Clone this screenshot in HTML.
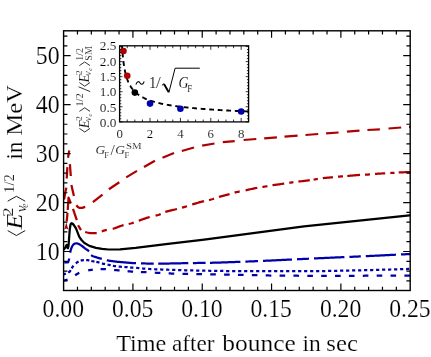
<!DOCTYPE html>
<html><head><meta charset="utf-8"><title>plot</title><style>html,body{margin:0;padding:0;background:#fff}body{width:431px;height:357px;overflow:hidden;font-family:"Liberation Serif",serif}</style></head><body>
<svg width="431" height="357" viewBox="0 0 431 357" style="display:block;will-change:transform;font-family:'Liberation Serif',serif">
<rect width="431" height="357" fill="#fff"/>
<style>text{stroke:#fff;stroke-width:0.14px}.b text,text.b{stroke-width:0.18px}</style>
<clipPath id="cp"><rect x="63.6" y="30.8" width="346.59999999999997" height="259.7"/></clipPath>
<g clip-path="url(#cp)">
<path d="M64.00,199.50 L66.30,187.60" fill="none" stroke="#ae0000" stroke-width="2.25" stroke-linejoin="round" />
<path d="M66.70,178.50 L67.40,167.10" fill="none" stroke="#ae0000" stroke-width="2.25" stroke-linejoin="round" />
<path d="M68.00,157.70 L69.25,150.50" fill="none" stroke="#ae0000" stroke-width="2.25" stroke-linejoin="round" />
<path d="M69.90,164.20 L70.80,176.00" fill="none" stroke="#ae0000" stroke-width="2.25" stroke-linejoin="round" />
<path d="M71.40,185.00 L73.90,196.00" fill="none" stroke="#ae0000" stroke-width="2.25" stroke-linejoin="round" />
<path d="M76.40,205.20 L77.80,207.00 L79.30,207.80 L82.00,207.90 L85.20,206.90" fill="none" stroke="#ae0000" stroke-width="2.25" stroke-linejoin="round" />
<path d="M92.90,202.20 L102.50,194.60" fill="none" stroke="#ae0000" stroke-width="2.25" stroke-linejoin="round" />
<path d="M108.90,189.30 L119.30,182.30" fill="none" stroke="#ae0000" stroke-width="2.25" stroke-linejoin="round" />
<path d="M126.20,177.40 L137.00,170.90" fill="none" stroke="#ae0000" stroke-width="2.25" stroke-linejoin="round" />
<path d="M144.00,166.90 L154.90,160.70" fill="none" stroke="#ae0000" stroke-width="2.25" stroke-linejoin="round" />
<path d="M162.50,157.70 L174.00,153.00" fill="none" stroke="#ae0000" stroke-width="2.25" stroke-linejoin="round" />
<path d="M181.80,151.00 L194.00,147.50" fill="none" stroke="#ae0000" stroke-width="2.25" stroke-linejoin="round" />
<path d="M202.20,145.60 L214.50,143.50" fill="none" stroke="#ae0000" stroke-width="2.25" stroke-linejoin="round" />
<path d="M222.80,142.20 L234.70,141.10" fill="none" stroke="#ae0000" stroke-width="2.25" stroke-linejoin="round" />
<path d="M243.60,140.00 L256.30,139.00" fill="none" stroke="#ae0000" stroke-width="2.25" stroke-linejoin="round" />
<path d="M264.20,138.40 L276.90,137.30" fill="none" stroke="#ae0000" stroke-width="2.25" stroke-linejoin="round" />
<path d="M284.50,136.70 L297.60,135.70" fill="none" stroke="#ae0000" stroke-width="2.25" stroke-linejoin="round" />
<path d="M305.50,135.00 L318.20,134.00" fill="none" stroke="#ae0000" stroke-width="2.25" stroke-linejoin="round" />
<path d="M326.10,133.30 L338.60,132.50" fill="none" stroke="#ae0000" stroke-width="2.25" stroke-linejoin="round" />
<path d="M346.90,131.60 L359.50,130.60" fill="none" stroke="#ae0000" stroke-width="2.25" stroke-linejoin="round" />
<path d="M367.40,130.00 L379.90,129.30" fill="none" stroke="#ae0000" stroke-width="2.25" stroke-linejoin="round" />
<path d="M388.50,128.50 L401.20,127.50" fill="none" stroke="#ae0000" stroke-width="2.25" stroke-linejoin="round" />
<path d="M409.00,126.90 L411.00,126.80" fill="none" stroke="#ae0000" stroke-width="2.25" stroke-linejoin="round" />
<path d="M66.70,221.40 L67.50,213.00" fill="none" stroke="#ae0000" stroke-width="2.25" stroke-linejoin="round" />
<path d="M67.75,210.00 L68.40,200.00 L68.50,197.60 L68.90,198.30 L70.90,203.50" fill="none" stroke="#ae0000" stroke-width="2.25" stroke-linejoin="round" />
<path d="M73.00,208.80 L76.80,220.20" fill="none" stroke="#ae0000" stroke-width="2.25" stroke-linejoin="round" />
<path d="M78.10,225.20 L81.00,230.10" fill="none" stroke="#ae0000" stroke-width="2.25" stroke-linejoin="round" />
<path d="M66.3,222.2 L64.3,229.6 L66.2,228.4 L68.3,229.6 Z" fill="#ae0000"/>
<path d="M85.20,232.00 L86.16,232.23 L87.12,232.50 L88.08,232.74 L89.03,232.93 L89.99,233.00 L90.95,233.00 L91.91,233.00 L92.87,233.00 L93.83,233.00 L94.78,233.00 L95.74,233.00 L96.70,233.00 M101.80,231.42 L102.80,231.00 L103.80,230.64 L104.80,230.38 L105.80,230.16 L106.80,229.96 M112.70,228.80 L113.69,228.53 L114.68,228.22 L115.67,227.89 L116.66,227.53 L117.65,227.16 L118.65,226.78 L119.64,226.41 L120.63,226.05 L121.62,225.70 L122.61,225.38 L123.60,225.10 M128.70,223.99 L129.70,223.77 L130.70,223.53 L131.70,223.26 L132.70,222.94 L133.70,222.60 M138.80,220.70 L139.79,220.35 L140.78,220.00 L141.77,219.64 L142.76,219.28 L143.75,218.93 L144.75,218.58 L145.74,218.24 L146.73,217.91 L147.72,217.59 L148.71,217.29 L149.70,217.00 M155.60,215.66 L156.45,215.45 L157.30,215.23 L158.15,214.98 L159.00,214.69 L159.85,214.35 L160.70,213.98 M165.30,212.00 L166.28,211.70 L167.25,211.41 L168.23,211.14 L169.20,210.89 L170.18,210.64 L171.15,210.41 L172.12,210.18 L173.10,209.95 L174.07,209.72 L175.05,209.49 L176.03,209.25 L177.00,209.00 M182.00,207.70 L183.00,207.43 L184.00,207.14 L185.00,206.85 L186.00,206.54 L187.00,206.21 M192.20,204.50 L193.18,204.20 L194.17,203.90 L195.15,203.60 L196.13,203.30 L197.12,203.01 L198.10,202.72 L199.08,202.43 L200.07,202.15 L201.05,201.88 L202.03,201.61 L203.02,201.35 L204.00,201.10 M209.00,200.00 L210.00,199.78 L211.00,199.53 L212.00,199.26 L213.00,198.95 L214.00,198.61 M219.00,196.90 L219.96,196.63 L220.93,196.37 L221.89,196.12 L222.85,195.88 L223.82,195.64 L224.78,195.41 L225.75,195.18 L226.71,194.94 L227.67,194.71 L228.64,194.46 L229.60,194.20 M234.60,192.68 L235.45,192.43 L236.30,192.20 L237.15,191.99 L238.00,191.79 L238.85,191.61 L239.70,191.43 M245.60,190.30 L246.57,190.10 L247.55,189.88 L248.53,189.67 L249.50,189.45 L250.47,189.23 L251.45,189.01 L252.43,188.79 L253.40,188.58 L254.38,188.37 L255.35,188.17 L256.32,187.98 L257.30,187.80 M262.40,187.00 L263.40,186.84 L264.40,186.68 L265.40,186.51 L266.40,186.33 L267.40,186.14 M272.50,185.20 L273.48,185.05 L274.45,184.91 L275.43,184.77 L276.40,184.64 L277.38,184.51 L278.35,184.38 L279.32,184.26 L280.30,184.13 L281.27,184.00 L282.25,183.87 L283.22,183.74 L284.20,183.60 M289.30,182.80 L290.12,182.67 L290.94,182.55 L291.76,182.44 L292.58,182.33 L293.40,182.22 M298.40,181.60 L299.35,181.48 L300.30,181.37 L301.25,181.25 L302.20,181.14 L303.15,181.03 L304.10,180.92 L305.05,180.80 L306.00,180.69 L306.95,180.57 L307.90,180.45 L308.85,180.33 L309.80,180.20 M313.60,179.63 L314.44,179.50 L315.28,179.36 L316.12,179.23 L316.96,179.10 L317.80,178.96 M322.80,178.20 L323.72,178.09 L324.64,177.99 L325.55,177.89 L326.47,177.80 L327.39,177.71 L328.31,177.62 L329.23,177.54 L330.15,177.45 L331.06,177.37 L331.98,177.29 L332.90,177.20 M338.00,176.72 L339.00,176.63 L340.00,176.54 L341.00,176.46 L342.00,176.38 L343.00,176.31 M347.30,176.00 L348.28,175.92 L349.25,175.83 L350.23,175.74 L351.21,175.65 L352.18,175.55 L353.16,175.46 L354.14,175.36 L355.12,175.27 L356.09,175.18 L357.07,175.10 L358.05,175.02 L359.02,174.96 L360.00,174.90 M365.00,174.71 L366.00,174.67 L367.00,174.63 L368.00,174.57 L369.00,174.49 L370.00,174.40 M375.00,173.90 L375.93,173.83 L376.85,173.77 L377.78,173.71 L378.71,173.66 L379.64,173.61 L380.56,173.55 L381.49,173.50 L382.42,173.45 L383.35,173.40 L384.27,173.35 L385.20,173.30 M390.30,173.02 L391.14,172.97 L391.98,172.92 L392.82,172.87 L393.66,172.82 L394.50,172.76 M398.70,172.50 L399.65,172.45 L400.59,172.41 L401.54,172.37 L402.48,172.33 L403.43,172.29 L404.38,172.25 L405.32,172.22 L406.27,172.18 L407.22,172.15 L408.16,172.11 L409.11,172.07 L410.05,172.04 L411.00,172.00 " fill="none" stroke="#ae0000" stroke-width="2.25"/>
<path d="M63.80,249.90 L65.40,247.20 L66.70,244.90 L67.30,247.60 L67.90,248.20 L68.50,246.00 L69.00,239.50 L69.80,229.00 L70.60,224.30 L71.50,223.20 L72.50,223.60 L73.50,224.60 L76.00,228.40 L79.30,236.80 L81.50,240.00 L84.40,243.00 L89.40,245.90 L96.00,247.80 L102.00,248.90 L108.50,249.50 L120.00,249.30 L135.60,247.90 L168.00,243.90 L200.00,240.10 L208.00,239.10 L304.00,226.40 L409.50,215.30 L411.00,215.15" fill="none" stroke="#000" stroke-width="2.25" stroke-linejoin="round" />
<path d="M64.30,262.80 L66.50,262.10 L68.20,262.30 L68.70,260.50 L69.30,258.50" fill="none" stroke="#0000ad" stroke-width="2.25" stroke-linejoin="round" />
<path d="M70.10,252.60 L71.09,248.90 L72.09,246.48 L73.08,244.94 L74.08,243.97 L75.07,243.49 L76.07,243.30 L77.06,243.45 L78.06,243.75 L79.05,244.12 L80.05,244.67 L81.04,245.33 L82.04,246.03 L83.03,246.76 L84.03,247.56 L85.02,248.36 L86.02,249.08 L87.01,249.73 L88.01,250.46 L89.00,251.40 M91.10,255.10 L92.07,255.73 L93.05,256.20 L94.02,256.56 L94.99,256.87 L95.96,257.19 L96.94,257.51 L97.91,257.81 L98.88,258.09 L99.85,258.36 L100.83,258.63 L101.80,258.90 M106.80,260.30 L107.77,260.48 L108.75,260.64 L109.72,260.80 L110.69,260.94 L111.67,261.08 L112.64,261.21 L113.61,261.33 L114.59,261.44 L115.56,261.55 L116.53,261.66 L117.51,261.76 L118.48,261.85 L119.45,261.95 L120.43,262.04 L121.40,262.13 L122.37,262.23 L123.35,262.32 L124.32,262.41 L125.29,262.49 L126.27,262.58 L127.24,262.66 L128.21,262.74 L129.19,262.81 L130.16,262.88 L131.13,262.95 L132.11,263.01 L133.08,263.07 L134.05,263.12 L135.03,263.16 L136.00,263.20 M141.00,263.37 L141.98,263.40 L142.95,263.43 L143.93,263.45 L144.91,263.48 L145.88,263.50 L146.86,263.52 L147.84,263.54 L148.82,263.56 L149.79,263.57 L150.77,263.58 L151.75,263.59 L152.72,263.60 L153.70,263.60 M158.20,263.59 L159.17,263.59 L160.14,263.58 L161.11,263.57 L162.08,263.57 L163.05,263.56 L164.03,263.55 L165.00,263.55 L165.97,263.54 L166.94,263.53 L167.91,263.52 L168.88,263.51 L169.85,263.50 L170.82,263.49 L171.79,263.48 L172.76,263.46 L173.74,263.44 L174.71,263.42 L175.68,263.40 L176.65,263.38 L177.62,263.35 L178.59,263.33 L179.56,263.30 L180.53,263.28 L181.50,263.25 L182.47,263.22 L183.45,263.20 L184.42,263.18 L185.39,263.15 L186.36,263.13 L187.33,263.12 L188.30,263.10 M192.90,263.04 L193.88,263.03 L194.85,263.02 L195.83,263.01 L196.81,263.00 L197.78,262.99 L198.76,262.98 L199.74,262.97 L200.72,262.96 L201.69,262.95 L202.67,262.94 L203.65,262.93 L204.62,262.92 L205.60,262.90 M210.00,262.81 L210.98,262.79 L211.96,262.77 L212.94,262.74 L213.92,262.72 L214.90,262.69 L215.88,262.66 L216.86,262.63 L217.85,262.60 L218.83,262.57 L219.81,262.54 L220.79,262.51 L221.77,262.48 L222.75,262.44 L223.73,262.41 L224.71,262.38 L225.69,262.34 L226.67,262.31 L227.65,262.27 L228.63,262.23 L229.61,262.20 L230.59,262.16 L231.57,262.12 L232.55,262.09 L233.54,262.05 L234.52,262.02 L235.50,261.98 L236.48,261.94 L237.46,261.91 L238.44,261.87 L239.42,261.84 L240.40,261.80 M245.40,261.61 L246.37,261.58 L247.34,261.54 L248.31,261.50 L249.28,261.46 L250.25,261.42 L251.22,261.38 L252.18,261.34 L253.15,261.30 L254.12,261.26 L255.09,261.22 L256.06,261.18 L257.03,261.14 L258.00,261.10 M263.00,260.88 L264.00,260.84 L265.00,260.79 L266.00,260.74 L267.00,260.70 L268.00,260.65 L269.00,260.60 L270.00,260.56 L271.00,260.51 L272.00,260.46 L273.00,260.41 L274.00,260.37 L275.00,260.32 L276.00,260.27 L277.00,260.22 L278.00,260.17 L279.00,260.13 L280.00,260.08 L281.00,260.03 L282.00,259.98 L283.00,259.93 L284.00,259.88 L285.00,259.83 L286.00,259.79 L287.00,259.74 L288.00,259.69 L289.00,259.64 L290.00,259.59 L291.00,259.55 L292.00,259.50 M297.00,259.26 L298.00,259.22 L299.00,259.17 L300.00,259.12 L301.00,259.07 L302.00,259.03 L303.00,258.98 L304.00,258.93 L305.00,258.89 L306.00,258.84 L307.00,258.79 L308.00,258.75 L309.00,258.70 M314.00,258.47 L314.98,258.42 L315.96,258.38 L316.94,258.33 L317.92,258.29 L318.90,258.24 L319.88,258.20 L320.86,258.15 L321.85,258.11 L322.83,258.07 L323.81,258.02 L324.79,257.98 L325.77,257.93 L326.75,257.89 L327.73,257.84 L328.71,257.80 L329.69,257.75 L330.67,257.71 L331.65,257.67 L332.63,257.62 L333.61,257.58 L334.59,257.53 L335.57,257.49 L336.55,257.45 L337.54,257.40 L338.52,257.36 L339.50,257.32 L340.48,257.27 L341.46,257.23 L342.44,257.19 L343.42,257.14 L344.40,257.10 M349.40,256.89 L350.35,256.85 L351.30,256.81 L352.25,256.77 L353.20,256.73 L354.15,256.69 L355.10,256.65 L356.05,256.61 L357.00,256.57 L357.95,256.53 L358.90,256.48 L359.85,256.44 L360.80,256.40 M365.80,256.17 L366.77,256.12 L367.75,256.08 L368.72,256.03 L369.70,255.99 L370.67,255.94 L371.65,255.89 L372.62,255.84 L373.59,255.80 L374.57,255.75 L375.54,255.70 L376.52,255.65 L377.49,255.61 L378.46,255.56 L379.44,255.51 L380.41,255.46 L381.39,255.41 L382.36,255.36 L383.34,255.32 L384.31,255.27 L385.28,255.22 L386.26,255.17 L387.23,255.12 L388.21,255.08 L389.18,255.03 L390.15,254.98 L391.13,254.93 L392.10,254.89 L393.08,254.84 L394.05,254.79 L395.03,254.75 L396.00,254.70 M401.00,254.47 L402.00,254.42 L403.00,254.37 L404.00,254.33 L405.00,254.28 L406.00,254.23 L407.00,254.19 L408.00,254.14 L409.00,254.09 L410.00,254.05 L411.00,254.00 " fill="none" stroke="#0000ad" stroke-width="2.25"/>
<path d="M63.70,274.27 L64.42,274.08 L65.13,273.88 L65.85,273.66 M68.27,272.59 L69.09,272.07 L69.91,271.40 L70.73,270.21 M71.69,268.42 L72.60,266.90 L73.51,265.72 M75.82,263.33 L76.74,262.59 L77.66,262.05 L78.58,261.56 M80.71,260.66 L81.51,260.44 L82.30,260.30 L83.09,260.21 L83.89,260.14 M86.20,260.12 L87.00,260.16 L87.80,260.20 L88.60,260.28 L89.40,260.41 M91.34,260.86 L92.12,261.06 L92.90,261.24 L93.68,261.39 L94.46,261.54 M96.34,261.88 L97.12,262.03 L97.90,262.20 L98.68,262.39 L99.46,262.62 M101.94,263.38 L102.72,263.60 L103.50,263.80 L104.28,263.97 L105.06,264.13 M107.53,264.60 L108.32,264.75 L109.10,264.90 L109.88,265.07 L110.67,265.24 M112.92,265.73 L113.71,265.89 L114.50,266.02 L115.29,266.13 L116.08,266.24 M118.71,266.55 L119.50,266.63 L120.30,266.70 L121.10,266.77 L121.89,266.82 M124.40,266.98 L125.20,267.04 L126.00,267.09 L126.80,267.15 L127.60,267.22 M130.15,267.45 L130.95,267.52 L131.75,267.58 L132.55,267.64 L133.35,267.70 M136.15,267.88 L136.95,267.94 L137.75,268.00 L138.55,268.08 L139.34,268.16 M142.15,268.47 L142.95,268.55 L143.75,268.63 L144.54,268.69 L145.34,268.74 M148.15,268.91 L148.95,268.96 L149.74,269.00 L150.54,269.04 L151.34,269.08 M154.14,269.21 L154.94,269.25 L155.74,269.28 L156.54,269.32 L157.34,269.35 M160.14,269.46 L160.94,269.49 L161.74,269.52 L162.54,269.55 L163.34,269.58 M166.14,269.67 L166.94,269.70 L167.74,269.72 L168.54,269.75 L169.34,269.78 M172.14,269.87 L172.94,269.90 L173.74,269.92 L174.54,269.95 L175.34,269.97 M178.13,270.06 L178.93,270.09 L179.73,270.11 L180.53,270.13 L181.33,270.16 M184.13,270.24 L184.93,270.26 L185.73,270.28 L186.53,270.30 L187.33,270.32 M190.13,270.39 L190.93,270.41 L191.73,270.43 L192.53,270.45 L193.33,270.47 M196.13,270.53 L196.93,270.54 L197.73,270.56 L198.53,270.57 L199.33,270.59 M202.13,270.64 L202.93,270.65 L203.73,270.66 L204.53,270.68 L205.33,270.69 M208.12,270.74 L208.92,270.75 L209.72,270.77 L210.52,270.78 L211.32,270.79 M214.12,270.84 L214.92,270.85 L215.72,270.87 L216.52,270.88 L217.32,270.89 M220.12,270.94 L220.92,270.95 L221.72,270.96 L222.52,270.97 L223.32,270.98 M226.12,271.02 L226.92,271.03 L227.72,271.04 L228.52,271.05 L229.32,271.06 M232.12,271.09 L232.92,271.10 L233.72,271.11 L234.52,271.12 L235.32,271.13 M238.11,271.15 L238.91,271.16 L239.71,271.16 L240.51,271.17 L241.31,271.17 M244.11,271.19 L244.91,271.19 L245.71,271.19 L246.51,271.20 L247.31,271.20 M250.11,271.20 L250.91,271.20 L251.71,271.20 L252.51,271.20 L253.31,271.20 M256.11,271.20 L256.91,271.20 L257.71,271.20 L258.51,271.20 L259.31,271.20 M262.11,271.20 L262.91,271.20 L263.71,271.20 L264.51,271.20 L265.31,271.20 M268.10,271.20 L268.90,271.20 L269.70,271.20 L270.50,271.20 L271.30,271.20 M274.10,271.20 L274.90,271.20 L275.70,271.20 L276.50,271.20 L277.30,271.20 M280.10,271.20 L280.90,271.20 L281.70,271.20 L282.50,271.20 L283.30,271.20 M286.10,271.20 L286.90,271.20 L287.70,271.20 L288.50,271.20 L289.30,271.20 M292.10,271.20 L292.90,271.20 L293.70,271.20 L294.50,271.20 L295.30,271.20 M298.09,271.20 L298.89,271.20 L299.69,271.20 L300.49,271.20 L301.29,271.20 M304.09,271.20 L304.89,271.20 L305.69,271.20 L306.49,271.20 L307.29,271.19 M310.09,271.18 L310.89,271.18 L311.69,271.17 L312.49,271.17 L313.29,271.16 M316.09,271.13 L316.89,271.13 L317.69,271.12 L318.49,271.11 L319.29,271.10 M322.09,271.06 L322.89,271.05 L323.69,271.04 L324.49,271.02 L325.29,271.01 M328.08,270.96 L328.88,270.95 L329.68,270.94 L330.48,270.92 L331.28,270.91 M334.08,270.85 L334.88,270.84 L335.68,270.82 L336.48,270.80 L337.28,270.79 M340.08,270.73 L340.88,270.71 L341.68,270.69 L342.48,270.68 L343.28,270.66 M346.08,270.60 L346.88,270.58 L347.68,270.56 L348.48,270.55 L349.28,270.53 M352.08,270.47 L352.88,270.45 L353.68,270.43 L354.48,270.42 L355.28,270.40 M358.07,270.34 L358.87,270.32 L359.67,270.31 L360.47,270.29 L361.27,270.27 M364.07,270.21 L364.87,270.19 L365.67,270.18 L366.47,270.16 L367.27,270.14 M370.07,270.07 L370.87,270.05 L371.67,270.03 L372.47,270.01 L373.27,269.99 M376.07,269.91 L376.87,269.89 L377.67,269.87 L378.47,269.85 L379.27,269.82 M382.07,269.74 L382.87,269.72 L383.67,269.70 L384.47,269.68 L385.27,269.65 M388.06,269.57 L388.86,269.55 L389.66,269.52 L390.46,269.50 L391.26,269.48 M394.06,269.39 L394.86,269.37 L395.66,269.34 L396.46,269.32 L397.26,269.30 M400.06,269.21 L400.86,269.19 L401.66,269.17 L402.46,269.14 L403.26,269.12 M406.06,269.04 L406.86,269.02 L407.66,268.99 L408.46,268.97 L409.26,268.95 " fill="none" stroke="#0000ad" stroke-width="2.25"/>
<path d="M63.90,280.52 L64.83,280.28 L65.75,280.05 L66.67,279.80 L67.60,279.50 M75.10,275.30 L75.94,274.78 L76.78,274.24 L77.62,273.72 L78.46,273.23 L79.30,272.80 M88.20,270.30 L89.12,270.17 L90.04,270.04 L90.96,269.91 L91.88,269.80 L92.80,269.70 M100.60,269.10 L101.48,269.10 L102.37,269.12 L103.25,269.13 L104.13,269.15 L105.02,269.18 L105.90,269.21 M114.10,270.00 L115.02,270.08 L115.93,270.15 L116.85,270.21 L117.77,270.28 L118.68,270.36 L119.60,270.43 M127.60,271.20 L128.52,271.28 L129.43,271.36 L130.35,271.44 L131.27,271.51 L132.18,271.57 L133.10,271.63 M140.90,272.00 L141.83,272.03 L142.77,272.07 L143.70,272.10 L144.63,272.13 L145.57,272.16 L146.50,272.20 M154.77,272.71 L155.70,272.75 L156.63,272.78 L157.57,272.81 L158.50,272.84 L159.43,272.88 L160.37,272.92 M168.64,273.41 L169.57,273.45 L170.50,273.49 L171.44,273.53 L172.37,273.56 L173.30,273.59 L174.24,273.62 M182.50,273.81 L183.44,273.83 L184.37,273.85 L185.30,273.86 L186.24,273.88 L187.17,273.90 L188.10,273.91 M196.37,274.03 L197.31,274.04 L198.24,274.06 L199.17,274.07 L200.11,274.09 L201.04,274.10 L201.97,274.12 M210.24,274.27 L211.17,274.29 L212.11,274.30 L213.04,274.32 L213.97,274.34 L214.91,274.36 L215.84,274.38 M224.11,274.56 L225.04,274.58 L225.97,274.60 L226.91,274.62 L227.84,274.64 L228.77,274.66 L229.71,274.68 M237.98,274.86 L238.91,274.88 L239.84,274.90 L240.78,274.92 L241.71,274.94 L242.64,274.96 L243.58,274.98 M251.84,275.14 L252.78,275.15 L253.71,275.17 L254.64,275.19 L255.58,275.21 L256.51,275.23 L257.44,275.25 M265.71,275.43 L266.65,275.45 L267.58,275.46 L268.51,275.48 L269.45,275.50 L270.38,275.52 L271.31,275.54 M279.58,275.66 L280.51,275.67 L281.45,275.68 L282.38,275.68 L283.31,275.69 L284.25,275.70 L285.18,275.70 M293.45,275.73 L294.38,275.74 L295.31,275.74 L296.25,275.74 L297.18,275.74 L298.11,275.75 L299.05,275.75 M307.32,275.77 L308.25,275.77 L309.18,275.78 L310.12,275.78 L311.05,275.78 L311.98,275.78 L312.92,275.78 M321.18,275.80 L322.12,275.80 L323.05,275.80 L323.98,275.80 L324.92,275.80 L325.85,275.80 L326.78,275.80 M335.05,275.80 L335.99,275.80 L336.92,275.80 L337.85,275.80 L338.79,275.80 L339.72,275.79 L340.65,275.79 M348.92,275.78 L349.85,275.78 L350.79,275.78 L351.72,275.78 L352.65,275.77 L353.59,275.77 L354.52,275.77 M362.79,275.75 L363.72,275.75 L364.65,275.74 L365.59,275.74 L366.52,275.74 L367.45,275.73 L368.39,275.73 M376.66,275.71 L377.59,275.70 L378.52,275.70 L379.46,275.70 L380.39,275.69 L381.32,275.69 L382.26,275.69 M390.52,275.66 L391.46,275.66 L392.39,275.65 L393.32,275.65 L394.26,275.65 L395.19,275.65 L396.12,275.64 M404.39,275.62 L405.33,275.61 L406.26,275.61 L407.19,275.61 L408.13,275.61 L409.06,275.60 L409.99,275.60 " fill="none" stroke="#0000ad" stroke-width="2.25"/>
</g>
<rect x="63.6" y="30.8" width="346.59999999999997" height="259.7" fill="none" stroke="#000" stroke-width="1.4"/>
<path d="M77.46,290.5 v-3.8 M77.46,30.8 v3.8 M91.33,290.5 v-3.8 M91.33,30.8 v3.8 M105.19,290.5 v-3.8 M105.19,30.8 v3.8 M119.06,290.5 v-3.8 M119.06,30.8 v3.8 M132.92,290.5 v-7.0 M132.92,30.8 v7.0 M146.78,290.5 v-3.8 M146.78,30.8 v3.8 M160.65,290.5 v-3.8 M160.65,30.8 v3.8 M174.51,290.5 v-3.8 M174.51,30.8 v3.8 M188.38,290.5 v-3.8 M188.38,30.8 v3.8 M202.24,290.5 v-7.0 M202.24,30.8 v7.0 M216.10,290.5 v-3.8 M216.10,30.8 v3.8 M229.97,290.5 v-3.8 M229.97,30.8 v3.8 M243.83,290.5 v-3.8 M243.83,30.8 v3.8 M257.70,290.5 v-3.8 M257.70,30.8 v3.8 M271.56,290.5 v-7.0 M271.56,30.8 v7.0 M285.42,290.5 v-3.8 M285.42,30.8 v3.8 M299.29,290.5 v-3.8 M299.29,30.8 v3.8 M313.15,290.5 v-3.8 M313.15,30.8 v3.8 M327.02,290.5 v-3.8 M327.02,30.8 v3.8 M340.88,290.5 v-7.0 M340.88,30.8 v7.0 M354.74,290.5 v-3.8 M354.74,30.8 v3.8 M368.61,290.5 v-3.8 M368.61,30.8 v3.8 M382.47,290.5 v-3.8 M382.47,30.8 v3.8 M396.34,290.5 v-3.8 M396.34,30.8 v3.8 M63.6,280.87 h3.8 M410.2,280.87 h-3.8 M63.6,271.08 h3.8 M410.2,271.08 h-3.8 M63.6,261.29 h3.8 M410.2,261.29 h-3.8 M63.6,251.50 h7.0 M410.2,251.50 h-7.0 M63.6,241.71 h3.8 M410.2,241.71 h-3.8 M63.6,231.92 h3.8 M410.2,231.92 h-3.8 M63.6,222.13 h3.8 M410.2,222.13 h-3.8 M63.6,212.34 h3.8 M410.2,212.34 h-3.8 M63.6,202.55 h7.0 M410.2,202.55 h-7.0 M63.6,192.76 h3.8 M410.2,192.76 h-3.8 M63.6,182.97 h3.8 M410.2,182.97 h-3.8 M63.6,173.18 h3.8 M410.2,173.18 h-3.8 M63.6,163.39 h3.8 M410.2,163.39 h-3.8 M63.6,153.60 h7.0 M410.2,153.60 h-7.0 M63.6,143.81 h3.8 M410.2,143.81 h-3.8 M63.6,134.02 h3.8 M410.2,134.02 h-3.8 M63.6,124.23 h3.8 M410.2,124.23 h-3.8 M63.6,114.44 h3.8 M410.2,114.44 h-3.8 M63.6,104.65 h7.0 M410.2,104.65 h-7.0 M63.6,94.86 h3.8 M410.2,94.86 h-3.8 M63.6,85.07 h3.8 M410.2,85.07 h-3.8 M63.6,75.28 h3.8 M410.2,75.28 h-3.8 M63.6,65.49 h3.8 M410.2,65.49 h-3.8 M63.6,55.70 h7.0 M410.2,55.70 h-7.0 M63.6,45.91 h3.8 M410.2,45.91 h-3.8 M63.6,36.12 h3.8 M410.2,36.12 h-3.8 " fill="none" stroke="#000" stroke-width="1.2"/>
<text class="b" x="63.30" y="316.8" font-size="25.8" text-anchor="middle" textLength="41.4" lengthAdjust="spacingAndGlyphs">0.00</text>
<text class="b" x="132.62" y="316.8" font-size="25.8" text-anchor="middle" textLength="41.4" lengthAdjust="spacingAndGlyphs">0.05</text>
<text class="b" x="201.94" y="316.8" font-size="25.8" text-anchor="middle" textLength="41.4" lengthAdjust="spacingAndGlyphs">0.10</text>
<text class="b" x="271.26" y="316.8" font-size="25.8" text-anchor="middle" textLength="41.4" lengthAdjust="spacingAndGlyphs">0.15</text>
<text class="b" x="340.58" y="316.8" font-size="25.8" text-anchor="middle" textLength="41.4" lengthAdjust="spacingAndGlyphs">0.20</text>
<text class="b" x="409.90" y="316.8" font-size="25.8" text-anchor="middle" textLength="41.4" lengthAdjust="spacingAndGlyphs">0.25</text>
<text class="b" x="59.6" y="260.00" font-size="25.8" text-anchor="end" textLength="23.8" lengthAdjust="spacingAndGlyphs">10</text>
<text class="b" x="59.6" y="211.05" font-size="25.8" text-anchor="end" textLength="23.8" lengthAdjust="spacingAndGlyphs">20</text>
<text class="b" x="59.6" y="162.10" font-size="25.8" text-anchor="end" textLength="23.8" lengthAdjust="spacingAndGlyphs">30</text>
<text class="b" x="59.6" y="113.15" font-size="25.8" text-anchor="end" textLength="23.8" lengthAdjust="spacingAndGlyphs">40</text>
<text class="b" x="59.6" y="64.20" font-size="25.8" text-anchor="end" textLength="23.8" lengthAdjust="spacingAndGlyphs">50</text>
<text class="b" x="116.20" y="350.6" font-size="23.6" textLength="50.10" lengthAdjust="spacingAndGlyphs">Time</text>
<text class="b" x="172.00" y="350.6" font-size="23.6" textLength="42.60" lengthAdjust="spacingAndGlyphs">after</text>
<text class="b" x="222.30" y="350.6" font-size="23.6" textLength="73.60" lengthAdjust="spacingAndGlyphs">bounce</text>
<text class="b" x="302.40" y="350.6" font-size="23.6" textLength="18.30" lengthAdjust="spacingAndGlyphs">in</text>
<text class="b" x="326.30" y="350.6" font-size="23.6" textLength="31.60" lengthAdjust="spacingAndGlyphs">sec</text>
<g class="b" transform="translate(0,236.2) rotate(-90)"><path d="M5.6,7.7 L0.7,16.4 L5.6,25.2 M35.0,7.7 L39.9,16.4 L35.0,25.2" fill="none" stroke="#000" stroke-width="0.9"/><text x="6.6" y="21.9" font-size="24" font-style="italic" textLength="16" lengthAdjust="spacingAndGlyphs">E</text><text x="19.4" y="13.3" font-size="15.2" textLength="9.4" lengthAdjust="spacingAndGlyphs">2</text><text x="24.0" y="26.0" font-size="15.5" font-style="italic">ν</text><text x="28.4" y="28.4" font-size="9.5" font-style="italic">e</text><text x="43.3" y="13.5" font-size="15.5" textLength="18.8" lengthAdjust="spacingAndGlyphs">1/2</text><text x="76.8" y="21.9" font-size="24" textLength="17.8" lengthAdjust="spacingAndGlyphs">in</text><text x="100.4" y="21.9" font-size="24" textLength="50.8" lengthAdjust="spacingAndGlyphs">MeV</text></g>
<rect x="119.6" y="45.8" width="129.0" height="76.10000000000001" fill="#fff" stroke="none"/>
<path d="M122.05,46.08 L122.21,48.51 L122.37,50.72 L122.54,52.74 L122.70,54.60 L122.86,56.32 L123.02,57.91 L123.18,59.39 L123.35,60.77 L123.51,62.07 L123.67,63.28 L123.83,64.43 L123.99,65.51 L124.15,66.53 L124.32,67.49 L124.48,68.41 L124.64,69.29 L124.80,70.12 L124.96,70.91 L125.13,71.67 L125.29,72.39 L125.45,73.09 L125.61,73.75 L125.77,74.39 L125.94,75.01 L126.10,75.60 L126.26,76.17 L126.42,76.72 L126.58,77.25 L126.75,77.76 L126.91,78.25 L127.07,78.73 L127.23,79.19 L127.39,79.64 L127.55,80.07 L127.72,80.49 L127.88,80.90 L128.04,81.30 L128.20,81.68 L128.36,82.06 L128.53,82.42 L128.69,82.78 L128.85,83.12 L129.01,83.46 L129.17,83.79 L129.34,84.10 L129.50,84.42 L129.66,84.72 L129.82,85.02 L129.98,85.31 L130.14,85.59 L130.31,85.86 L130.47,86.13 L130.63,86.40 L130.79,86.66 L130.95,86.91 L131.12,87.16 L131.28,87.40 L131.44,87.63 L131.60,87.87 L131.76,88.09 L131.93,88.32 L132.09,88.54 L132.25,88.75 L132.41,88.96 L132.57,89.17 L132.74,89.37 L132.90,89.57 L133.06,89.76 L133.22,89.96 L133.38,90.14 L133.54,90.33 L133.71,90.51 L133.87,90.69 L134.03,90.86 L134.19,91.04 L134.35,91.21 L134.52,91.37 L134.68,91.54 L134.84,91.70 L134.84,91.70 L135.41,92.25 L135.98,92.77 L136.56,93.27 L137.13,93.74 L137.70,94.19 L138.27,94.61 L138.84,95.02 L139.41,95.41 L139.99,95.79 L140.56,96.14 L141.13,96.49 L141.70,96.82 L142.27,97.14 L142.84,97.44 L143.42,97.74 L143.99,98.02 L144.56,98.29 L145.13,98.56 L145.70,98.82 L146.27,99.06 L146.85,99.30 L147.42,99.54 L147.99,99.76 L148.56,99.98 L149.13,100.19 L149.70,100.40 L150.28,100.60 L150.85,100.80 L151.42,100.99 L151.99,101.17 L152.56,101.35 L153.14,101.53 L153.71,101.70 L154.28,101.86 L154.85,102.03 L155.42,102.19 L155.99,102.34 L156.57,102.49 L157.14,102.64 L157.71,102.78 L158.28,102.93 L158.85,103.06 L159.42,103.20 L160.00,103.33 L160.57,103.46 L161.14,103.59 L161.71,103.71 L162.28,103.83 L162.85,103.95 L163.43,104.07 L164.00,104.18 L164.57,104.30 L165.14,104.41 L165.71,104.52 L166.28,104.62 L166.86,104.73 L167.43,104.83 L168.00,104.93 L168.57,105.03 L169.14,105.12 L169.72,105.22 L170.29,105.31 L170.86,105.41 L171.43,105.50 L172.00,105.59 L172.57,105.67 L173.15,105.76 L173.72,105.85 L174.29,105.93 L174.86,106.01 L175.43,106.09 L176.00,106.17 L176.58,106.25 L177.15,106.33 L177.72,106.41 L178.29,106.48 L178.86,106.55 L179.43,106.63 L180.01,106.70 L180.58,106.77 L181.15,106.84 L181.72,106.91 L182.29,106.98 L182.86,107.05 L183.44,107.11 L184.01,107.18 L184.58,107.24 L185.15,107.30 L185.72,107.37 L186.30,107.43 L186.87,107.49 L187.44,107.55 L188.01,107.61 L188.58,107.67 L189.15,107.73 L189.73,107.79 L190.30,107.84 L190.87,107.90 L191.44,107.95 L192.01,108.01 L192.58,108.06 L193.16,108.12 L193.73,108.17 L194.30,108.22 L194.87,108.27 L195.44,108.32 L196.01,108.38 L196.59,108.43 L197.16,108.47 L197.73,108.52 L198.30,108.57 L198.87,108.62 L199.44,108.67 L200.02,108.71 L200.59,108.76 L201.16,108.81 L201.73,108.85 L202.30,108.90 L202.88,108.94 L203.45,108.98 L204.02,109.03 L204.59,109.07 L205.16,109.11 L205.73,109.16 L206.31,109.20 L206.88,109.24 L207.45,109.28 L208.02,109.32 L208.59,109.36 L209.16,109.40 L209.74,109.44 L210.31,109.48 L210.88,109.52 L211.45,109.56 L212.02,109.59 L212.59,109.63 L213.17,109.67 L213.74,109.71 L214.31,109.74 L214.88,109.78 L215.45,109.81 L216.02,109.85 L216.60,109.89 L217.17,109.92 L217.74,109.96 L218.31,109.99 L218.88,110.02 L219.46,110.06 L220.03,110.09 L220.60,110.12 L221.17,110.16 L221.74,110.19 L222.31,110.22 L222.89,110.25 L223.46,110.29 L224.03,110.32 L224.60,110.35 L225.17,110.38 L225.74,110.41 L226.32,110.44 L226.89,110.47 L227.46,110.50 L228.03,110.53 L228.60,110.56 L229.17,110.59 L229.75,110.62 L230.32,110.65 L230.89,110.68 L231.46,110.71 L232.03,110.73 L232.60,110.76 L233.18,110.79 L233.75,110.82 L234.32,110.84 L234.89,110.87 L235.46,110.90 L236.04,110.93 L236.61,110.95 L237.18,110.98 L237.75,111.01 L238.32,111.03 L238.89,111.06 L239.47,111.08 L240.04,111.11 L240.61,111.13 L241.18,111.16 L241.75,111.18 L242.32,111.21 L242.90,111.23 L243.47,111.26 L244.04,111.28 L244.61,111.31 L245.18,111.33 L245.75,111.35 L246.33,111.38 L246.90,111.40 L247.47,111.42 L248.04,111.45 L248.61,111.47" fill="none" stroke="#000" stroke-width="1.9" stroke-dasharray="4.8 3.74" stroke-dashoffset="2"/>
<circle cx="123.45" cy="51.06" r="3.3" fill="#ae0000"/>
<circle cx="127.24" cy="75.75" r="3.3" fill="#ae0000"/>
<circle cx="134.84" cy="92.60" r="3.3" fill="#000"/>
<circle cx="150.03" cy="103.59" r="3.3" fill="#0000ad"/>
<circle cx="180.41" cy="108.71" r="3.3" fill="#0000ad"/>
<circle cx="241.17" cy="111.57" r="3.3" fill="#0000ad"/>
<rect x="119.6" y="45.8" width="129.0" height="76.10000000000001" fill="none" stroke="#000" stroke-width="1.3"/>
<path d="M127.24,121.9 v-2.4 M127.24,45.8 v2.4 M134.84,121.9 v-2.4 M134.84,45.8 v2.4 M142.44,121.9 v-2.4 M142.44,45.8 v2.4 M150.03,121.9 v-4.0 M150.03,45.8 v4.0 M157.62,121.9 v-2.4 M157.62,45.8 v2.4 M165.22,121.9 v-2.4 M165.22,45.8 v2.4 M172.81,121.9 v-2.4 M172.81,45.8 v2.4 M180.41,121.9 v-4.0 M180.41,45.8 v4.0 M188.00,121.9 v-2.4 M188.00,45.8 v2.4 M195.60,121.9 v-2.4 M195.60,45.8 v2.4 M203.19,121.9 v-2.4 M203.19,45.8 v2.4 M210.79,121.9 v-4.0 M210.79,45.8 v4.0 M218.38,121.9 v-2.4 M218.38,45.8 v2.4 M225.98,121.9 v-2.4 M225.98,45.8 v2.4 M233.57,121.9 v-2.4 M233.57,45.8 v2.4 M241.17,121.9 v-4.0 M241.17,45.8 v4.0 M119.6,121.80 h2.9 M248.6,121.80 h-2.9 M119.6,118.79 h1.7 M248.6,118.79 h-1.7 M119.6,115.78 h1.7 M248.6,115.78 h-1.7 M119.6,112.77 h1.7 M248.6,112.77 h-1.7 M119.6,109.76 h1.7 M248.6,109.76 h-1.7 M119.6,106.75 h2.9 M248.6,106.75 h-2.9 M119.6,103.74 h1.7 M248.6,103.74 h-1.7 M119.6,100.73 h1.7 M248.6,100.73 h-1.7 M119.6,97.72 h1.7 M248.6,97.72 h-1.7 M119.6,94.71 h1.7 M248.6,94.71 h-1.7 M119.6,91.70 h2.9 M248.6,91.70 h-2.9 M119.6,88.69 h1.7 M248.6,88.69 h-1.7 M119.6,85.68 h1.7 M248.6,85.68 h-1.7 M119.6,82.67 h1.7 M248.6,82.67 h-1.7 M119.6,79.66 h1.7 M248.6,79.66 h-1.7 M119.6,76.65 h2.9 M248.6,76.65 h-2.9 M119.6,73.64 h1.7 M248.6,73.64 h-1.7 M119.6,70.63 h1.7 M248.6,70.63 h-1.7 M119.6,67.62 h1.7 M248.6,67.62 h-1.7 M119.6,64.61 h1.7 M248.6,64.61 h-1.7 M119.6,61.60 h2.9 M248.6,61.60 h-2.9 M119.6,58.59 h1.7 M248.6,58.59 h-1.7 M119.6,55.58 h1.7 M248.6,55.58 h-1.7 M119.6,52.57 h1.7 M248.6,52.57 h-1.7 M119.6,49.56 h1.7 M248.6,49.56 h-1.7 M119.6,46.55 h2.9 M248.6,46.55 h-2.9 " fill="none" stroke="#000" stroke-width="0.8"/>
<text x="116.4" y="126.90" font-size="13.2" text-anchor="end" textLength="16.6" lengthAdjust="spacingAndGlyphs">0.0</text>
<text x="116.4" y="111.60" font-size="13.2" text-anchor="end" textLength="16.6" lengthAdjust="spacingAndGlyphs">0.5</text>
<text x="116.4" y="96.30" font-size="13.2" text-anchor="end" textLength="16.6" lengthAdjust="spacingAndGlyphs">1.0</text>
<text x="116.4" y="81.00" font-size="13.2" text-anchor="end" textLength="16.6" lengthAdjust="spacingAndGlyphs">1.5</text>
<text x="116.4" y="65.70" font-size="13.2" text-anchor="end" textLength="16.6" lengthAdjust="spacingAndGlyphs">2.0</text>
<text x="116.4" y="50.40" font-size="13.2" text-anchor="end" textLength="16.6" lengthAdjust="spacingAndGlyphs">2.5</text>
<text x="119.65" y="138.4" font-size="13.2" text-anchor="middle" textLength="6.4" lengthAdjust="spacingAndGlyphs">0</text>
<text x="150.03" y="138.4" font-size="13.2" text-anchor="middle" textLength="6.4" lengthAdjust="spacingAndGlyphs">2</text>
<text x="180.41" y="138.4" font-size="13.2" text-anchor="middle" textLength="6.4" lengthAdjust="spacingAndGlyphs">4</text>
<text x="210.79" y="138.4" font-size="13.2" text-anchor="middle" textLength="6.4" lengthAdjust="spacingAndGlyphs">6</text>
<text x="241.17" y="138.4" font-size="13.2" text-anchor="middle" textLength="6.4" lengthAdjust="spacingAndGlyphs">8</text>
<text x="95.6" y="153.5" font-size="13.4" font-style="italic">G</text>
<text x="104.2" y="158.2" font-size="8.6">F</text>
<text x="110.6" y="154.6" font-size="15.5">/</text>
<text x="115.3" y="153.5" font-size="13.4" font-style="italic">G</text>
<text x="124.4" y="158.4" font-size="8.6">F</text>
<text x="126.0" y="149.4" font-size="8.8" textLength="15.6" lengthAdjust="spacingAndGlyphs">SM</text>
<path d="M135.9,84.6 C137.0,81.2 138.9,80.9 140.1,82.9 C141.3,84.9 143.0,84.9 144.2,81.5" fill="none" stroke="#000" stroke-width="1.05"/>
<text x="148.9" y="87.5" font-size="16.2" textLength="7.4" lengthAdjust="spacingAndGlyphs">1</text>
<text x="156.0" y="88.0" font-size="17">/</text>
<path d="M161.9,85.3 L163.9,83.8 L168.9,92.4 L175.1,68.2 L199.8,68.2" fill="none" stroke="#000" stroke-width="1"/>
<path d="M164.0,84.0 L168.6,91.9" fill="none" stroke="#000" stroke-width="1.9"/>
<text x="178.6" y="87.5" font-size="16.2" font-style="italic" textLength="10" lengthAdjust="spacingAndGlyphs">G</text>
<text x="187.2" y="91.6" font-size="10.4" textLength="5" lengthAdjust="spacingAndGlyphs">F</text>
<g transform="translate(0,132.4) rotate(-90)"><path d="M4.0,79.4 L0.4,84.7 L4.0,90.0 M21.0,79.4 L24.6,84.7 L21.0,90.0" fill="none" stroke="#000" stroke-width="0.8"/><text x="4.1" y="88.8" font-size="13.8" font-style="italic">E</text><text x="11.6" y="82.4" font-size="9.2">2</text><text x="11.2" y="90.6" font-size="9.6" font-style="italic">ν</text><text x="15.9" y="91.6" font-size="6.8" font-style="italic">e</text><text x="25.8" y="83.3" font-size="9.6" textLength="13.2" lengthAdjust="spacingAndGlyphs">1/2</text><path d="M40.8,90.2 L45.6,78.6" stroke="#000" stroke-width="0.8" fill="none"/><path d="M49.8,79.4 L46.199999999999996,84.7 L49.8,90.0 M66.8,79.4 L70.4,84.7 L66.8,90.0" fill="none" stroke="#000" stroke-width="0.8"/><text x="49.9" y="88.8" font-size="13.8" font-style="italic">E</text><text x="57.4" y="82.4" font-size="9.2">2</text><text x="57.0" y="90.6" font-size="9.6" font-style="italic">ν</text><text x="61.699999999999996" y="91.6" font-size="6.8" font-style="italic">e</text><text x="71.6" y="83.3" font-size="9.6" textLength="12.8" lengthAdjust="spacingAndGlyphs">1/2</text><text x="71.69999999999999" y="91.7" font-size="9.8" textLength="14.6" lengthAdjust="spacingAndGlyphs">SM</text></g>
</svg>
</body></html>
